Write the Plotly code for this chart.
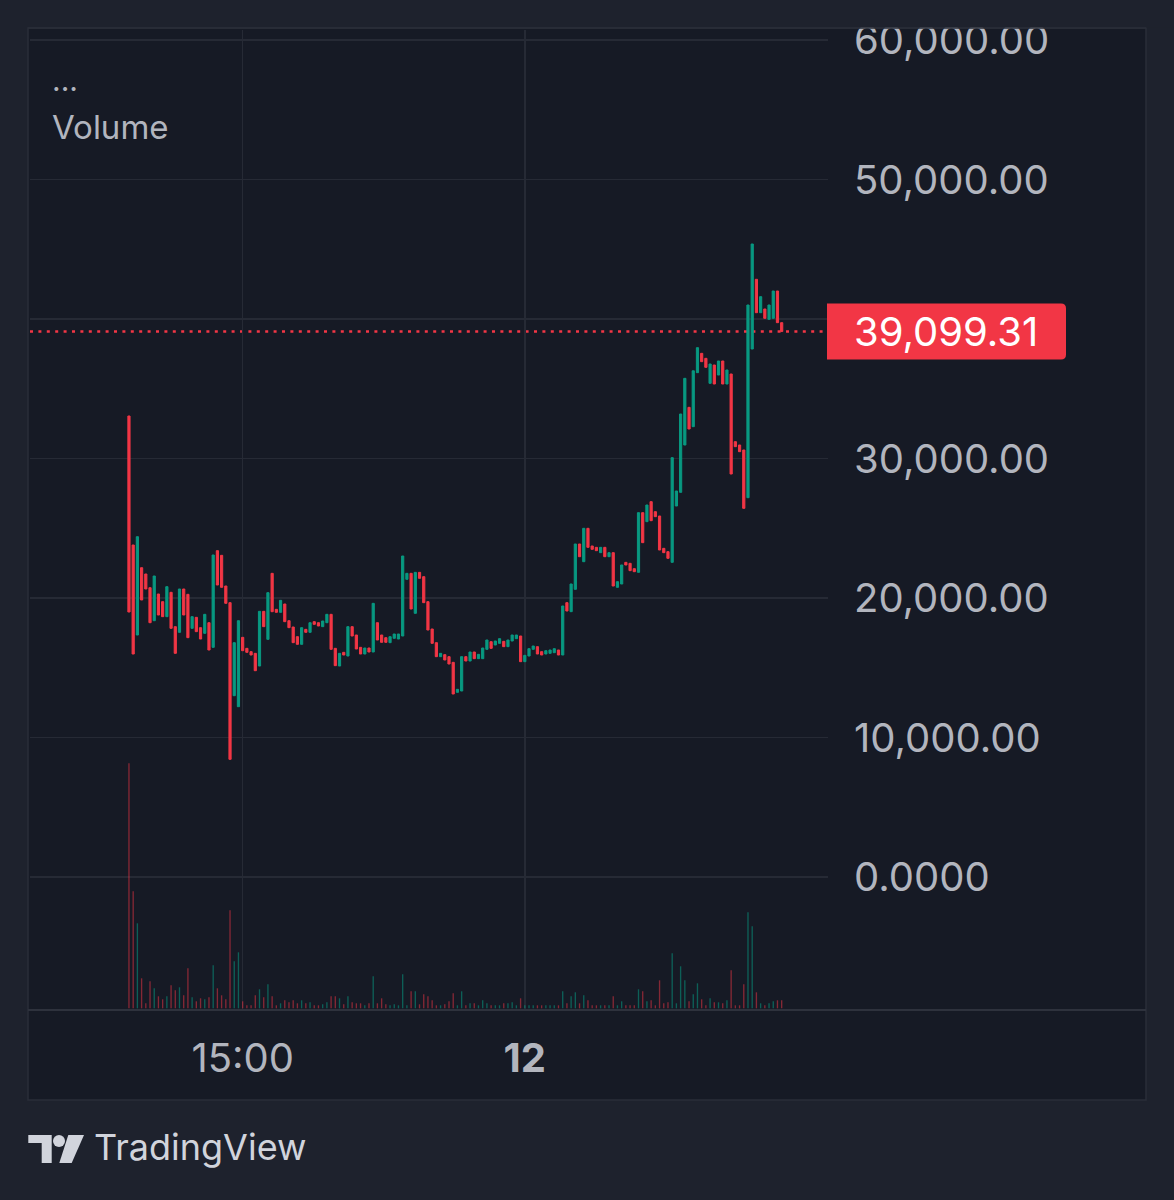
import plotly.graph_objects as go

# ---------------- data ----------------
opens = [33047, 23799, 17348, 22172, 21720, 20738, 18373, 20287, 19737, 18662,
         20407, 17945, 17539, 20645, 20263, 17826, 18614, 17873, 17467, 18230,
         16464, 23393, 23059, 20860, 19666, 12997, 12209, 17180, 16392, 16153,
         16033, 15125, 19044, 17037, 21768, 19187, 18972, 19570, 18373, 17921,
         17228, 16679, 17754, 17539, 18303, 18230, 17945, 18230, 18829, 16392,
         15125, 16105, 15842, 17945, 17348, 16464, 15986, 16416, 16129, 18230,
         17348, 17156, 16798, 17108, 17061, 17276, 21338, 21768, 18901, 21840,
         21529, 19737, 17778, 16798, 15794, 15938, 15794, 15388, 13238, 13333,
         15794, 15484, 16129, 15651, 15651, 16320, 16869, 16630, 16750, 16893,
         16511, 16917, 17085, 17276, 15436, 15842, 16320, 16511, 16153, 15986,
         16033, 16081, 16272, 15914, 19666, 19020, 20621, 23871, 22603, 24995,
         23728, 23632, 23250, 23632, 22961, 23250, 20765, 21004, 22556, 22485,
         22103, 21840, 26117, 25472, 26906, 26189, 25878, 23560, 23321, 22556,
         26595, 27575, 30968, 33668, 32282, 36154, 37539, 37180, 35388, 36702,
         35986, 36989, 35340, 36057, 31207, 30968, 30609, 27190, 37849, 42846,
         40452, 40717, 39976, 40050, 42007, 39737]
closes = [18996, 15986, 24394, 19857, 20645, 18230, 21577, 18781, 18662, 20812,
          17826, 16033, 20645, 18781, 17156, 18662, 17587, 17061, 18829, 16272,
          23083, 20932, 20765, 19618, 8435, 16798, 18373, 16224, 16105, 15914,
          14789, 19044, 17945, 20382, 19018, 18972, 19833, 18303, 17873, 16798,
          16679, 17873, 17539, 18230, 18112, 17993, 18351, 18829, 16320, 15149,
          16033, 15914, 17945, 17276, 16344, 15986, 16416, 16129, 19618, 16989,
          16822, 16822, 17228, 17419, 17419, 23011, 21768, 19211, 21840, 21410,
          19666, 17706, 16750, 15794, 16033, 15556, 15269, 13118, 13453, 15794,
          15484, 16129, 15651, 15962, 16416, 16989, 16392, 16917, 17085, 16511,
          16989, 17348, 17348, 15436, 15890, 16368, 16559, 15986, 15914, 16224,
          16272, 16368, 15914, 19427, 19068, 21004, 23871, 22961, 24995, 23632,
          23489, 23393, 23632, 22961, 23250, 20860, 21171, 22366, 22366, 21959,
          21887, 26117, 23966, 26667, 25543, 25830, 23441, 23250, 22843, 30060,
          27670, 33190, 35747, 32115, 36287, 37945, 36941, 36535, 36774, 35340,
          36989, 35340, 36344, 28889, 30848, 30489, 26428, 41004, 45376, 40452,
          41601, 40050, 41004, 42007, 39737, 39099.31]
volumes = [245, 117, 85, 30, 5, 27, 20, 12, 9, 12,
           23, 18, 21, 13, 40, 11, 7, 10, 9, 11,
           43, 20, 13, 9, 98, 47, 56, 7, 3, 3,
           13, 19, 11, 24, 12, 3, 5, 8, 6, 8,
           5, 8, 5, 6, 3, 3, 4, 6, 12, 12,
           10, 4, 12, 6, 5, 5, 3, 5, 32, 5,
           10, 4, 3, 4, 3, 34, 3, 17, 17, 4,
           14, 12, 8, 3, 3, 4, 7, 15, 3, 17,
           3, 5, 5, 3, 8, 5, 3, 3, 3, 5,
           5, 6, 3, 10, 3, 3, 3, 3, 3, 3,
           3, 3, 3, 17, 5, 12, 16, 5, 13, 8,
           3, 3, 3, 3, 3, 12, 3, 7, 3, 3,
           3, 19, 17, 7, 8, 3, 28, 5, 6, 55,
           5, 42, 28, 7, 14, 25, 9, 3, 10, 6,
           6, 5, 8, 38, 3, 3, 24, 96, 82, 16,
           5, 3, 5, 7, 8, 8]

price_ticks = [0, 10000, 20000, 30000, 40000, 50000, 60000]
price_tick_labels = ["0.0000", "10,000.00", "20,000.00", "30,000.00",
                     "40,000.00", "50,000.00", "60,000.00"]
time_tick_pos = [27, 94]
time_tick_labels = ["15:00", "<b>12</b>"]
last_price = 39099.31
last_price_label = "39,099.31"
legend_lines = ["...", "Volume"]
brand = "TradingView"

# ---------------- styling ----------------
W, H = 1174, 1200
L, R, T, B = 30, 828, 30, 1010          # plot area in px
OUTER = "#1e222d"
PANE = "#161a25"
GRID = "#262a35"
BORDER = "#2a2e39"
LABEL = "#b2b5be"
TEAL = "#089981"
RED = "#f23645"
VOL_UP = "rgba(8,153,129,0.55)"
VOL_DN = "rgba(242,54,69,0.5)"
FONT = "Inter"
AXFS = 40

X_RANGE = [-23.5, 166.0]
PX_PER_10K = 139.5
ZERO_PX = 877
Y_RANGE = [(ZERO_PX - B) / PX_PER_10K * 10000, (ZERO_PX - T) / PX_PER_10K * 10000]


def pxx(x):
    return (x - L) / (R - L)


def pxy(y):
    return (B - y) / (B - T)


def price_to_paper(p):
    return (p - Y_RANGE[0]) / (Y_RANGE[1] - Y_RANGE[0])


xs = list(range(len(opens)))
highs = [max(o, c) for o, c in zip(opens, closes)]
lows = [min(o, c) for o, c in zip(opens, closes)]
vol_colors = [VOL_UP if c >= o else VOL_DN for o, c in zip(opens, closes)]

fig = go.Figure()
fig.add_trace(go.Bar(x=xs, y=volumes, yaxis="y2", width=0.32,
                     marker=dict(color=vol_colors, line=dict(width=0)),
                     hoverinfo="skip", showlegend=False))
fig.add_trace(go.Candlestick(
    x=xs, open=opens, high=highs, low=lows, close=closes,
    increasing=dict(line=dict(color=TEAL, width=1), fillcolor=TEAL),
    decreasing=dict(line=dict(color=RED, width=1), fillcolor=RED),
    whiskerwidth=0, hoverinfo="skip", showlegend=False))

shapes = []
# pane background + border
shapes.append(dict(type="rect", xref="paper", yref="paper", layer="below",
                   x0=pxx(28), x1=pxx(1146), y0=pxy(1100), y1=pxy(28),
                   fillcolor=PANE, line=dict(color=BORDER, width=1.5)))
# dotted last-price line
shapes.append(dict(type="line", xref="paper", yref="y", layer="between",
                   x0=0, x1=1, y0=last_price, y1=last_price,
                   line=dict(color=RED, width=2.5, dash="3px,5.4px")))
# time axis separator
shapes.append(dict(type="line", xref="paper", yref="paper", layer="above",
                   x0=pxx(28), x1=pxx(1146), y0=pxy(1010), y1=pxy(1010),
                   line=dict(color="#2e323d", width=2)))
# cover to clip the top label at the pane edge
shapes.append(dict(type="rect", xref="paper", yref="paper", layer="above",
                   x0=pxx(800), x1=pxx(1174), y0=pxy(27.5), y1=pxy(0),
                   fillcolor=OUTER, line=dict(width=0)))
shapes.append(dict(type="line", xref="paper", yref="paper", layer="above",
                   x0=pxx(28), x1=pxx(1146), y0=pxy(28), y1=pxy(28),
                   line=dict(color=BORDER, width=1.5)))
# red last-price badge with rounded right corners
half_h = 28
cy = B - price_to_paper(last_price) * (B - T)
bx0, bx1 = pxx(827), pxx(1066)
by0, by1 = pxy(cy + half_h), pxy(cy - half_h)
rx, ry = 5 / (R - L), 5 / (B - T)
badge = (f"M {bx0},{by0} L {bx1 - rx},{by0} Q {bx1},{by0} {bx1},{by0 + ry} "
         f"L {bx1},{by1 - ry} Q {bx1},{by1} {bx1 - rx},{by1} L {bx0},{by1} Z")
shapes.append(dict(type="path", xref="paper", yref="paper", layer="above",
                   path=badge, fillcolor=RED, line=dict(width=0)))
# TradingView logo
logo_col = "#d1d4dc"
tpath = (f"M {pxx(28.3)},{pxy(1135)} L {pxx(51.7)},{pxy(1135)} L {pxx(51.7)},{pxy(1163)} "
         f"L {pxx(41.7)},{pxy(1163)} L {pxx(41.7)},{pxy(1143)} L {pxx(28.3)},{pxy(1143)} Z")
shapes.append(dict(type="path", xref="paper", yref="paper", layer="above",
                   path=tpath, fillcolor=logo_col, line=dict(width=0)))
shapes.append(dict(type="circle", xref="paper", yref="paper", layer="above",
                   x0=pxx(53), x1=pxx(65), y0=pxy(1147), y1=pxy(1135),
                   fillcolor=logo_col, line=dict(width=0)))
spath = (f"M {pxx(68.3)},{pxy(1135)} L {pxx(84)},{pxy(1135)} L {pxx(71.7)},{pxy(1163)} "
         f"L {pxx(59.3)},{pxy(1163)} Z")
shapes.append(dict(type="path", xref="paper", yref="paper", layer="above",
                   path=spath, fillcolor=logo_col, line=dict(width=0)))

annotations = [
    dict(text=last_price_label, xref="paper", yref="paper", x=pxx(852), y=pxy(cy),
         xanchor="left", yanchor="middle", showarrow=False,
         font=dict(family=FONT, size=AXFS, color="#ffffff")),
    dict(text=legend_lines[0], xref="paper", yref="paper", x=pxx(50), y=pxy(80),
         xanchor="left", yanchor="middle", showarrow=False,
         font=dict(family=FONT, size=30, color=LABEL)),
    dict(text=legend_lines[1], xref="paper", yref="paper", x=pxx(50), y=pxy(127),
         xanchor="left", yanchor="middle", showarrow=False,
         font=dict(family=FONT, size=33, color=LABEL)),
    dict(text=brand, xref="paper", yref="paper", x=pxx(92), y=pxy(1147),
         xanchor="left", yanchor="middle", showarrow=False,
         font=dict(family=FONT, size=36, color=logo_col)),
]

fig.update_layout(
    width=W, height=H,
    margin=dict(l=L, r=W - R, t=T, b=H - B, pad=0),
    paper_bgcolor=OUTER, plot_bgcolor=PANE,
    showlegend=False, hovermode=False,
    boxgap=0.48, boxgroupgap=0,
    shapes=shapes, annotations=annotations,
    xaxis=dict(range=X_RANGE, rangeslider=dict(visible=False),
               tickvals=time_tick_pos, ticktext=time_tick_labels,
               showgrid=True, gridcolor=GRID, gridwidth=1.5,
               zeroline=False, showline=False, ticks="",
               ticklabelstandoff=21,
               tickfont=dict(family=FONT, size=AXFS, color=LABEL), fixedrange=True),
    yaxis=dict(range=Y_RANGE, side="right", tickvals=price_ticks, ticktext=price_tick_labels,
               showgrid=True, gridcolor=GRID, gridwidth=1.5,
               zeroline=False, showline=False, ticks="",
               ticklabelstandoff=25,
               tickfont=dict(family=FONT, size=AXFS, color=LABEL), fixedrange=True),
    yaxis2=dict(range=[-1.7, 978.3], overlaying="y", visible=False, fixedrange=True),
)

fig.write_html("out.html", config={"displayModeBar": False, "staticPlot": True},
               post_script="document.body.style.margin='0';document.body.style.overflow='hidden';")
